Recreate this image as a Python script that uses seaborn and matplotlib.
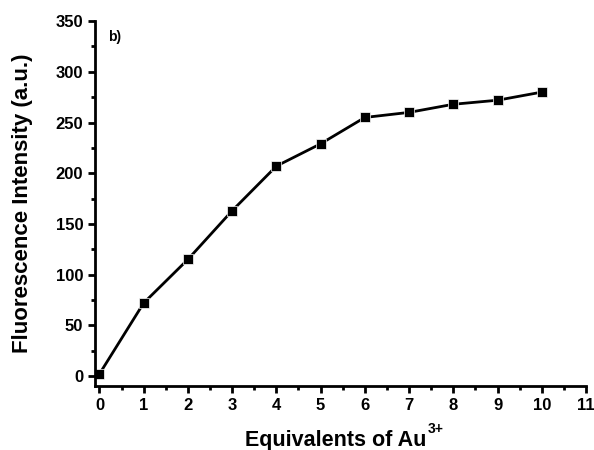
import matplotlib
matplotlib.use("Agg")
import matplotlib.pyplot as plt
import seaborn as sns
import pandas as pd
from matplotlib.ticker import MultipleLocator

equivalents = [0, 1, 2, 3, 4, 5, 6, 7, 8, 9, 10]
intensity = [2, 72, 115, 163, 207, 229, 255, 260, 268, 272, 280]

df = pd.DataFrame({"eq": equivalents, "I": intensity})

sns.set_style("ticks")
plt.rcParams['font.family'] = ['Liberation Sans', 'DejaVu Sans']
plt.rcParams['font.weight'] = 'bold'
plt.rcParams['text.color'] = 'black'
plt.rcParams['axes.labelcolor'] = 'black'
plt.rcParams['xtick.color'] = 'black'
plt.rcParams['ytick.color'] = 'black'
plt.rcParams['axes.edgecolor'] = 'black'

fig = plt.figure(figsize=(5.94, 4.5), dpi=100)
ax = fig.add_axes([0.16, 0.142, 0.8265, 0.811])
sns.lineplot(data=df, x="eq", y="I", ax=ax, color="black", linewidth=2,
             marker="s", markersize=7, markeredgecolor="white", markeredgewidth=0.5)

ax.set_xlim(-0.1, 11)
ax.set_ylim(-10, 350)
ax.xaxis.set_major_locator(MultipleLocator(1))
ax.xaxis.set_minor_locator(MultipleLocator(0.5))
ax.yaxis.set_major_locator(MultipleLocator(50))
ax.yaxis.set_minor_locator(MultipleLocator(25))
ax.spines['top'].set_visible(False)
ax.spines['right'].set_visible(False)
for s in ['left', 'bottom']:
    ax.spines[s].set_linewidth(2)
ax.tick_params(which='major', length=5, width=2, labelsize=12, direction='out', color='black', labelcolor='black')
ax.tick_params(which='minor', length=3, width=2, direction='out', color='black')
for lab in ax.get_xticklabels() + ax.get_yticklabels():
    lab.set_fontweight('bold')

ax.set_ylabel("Fluorescence Intensity (a.u.)", fontsize=16, fontweight='bold', labelpad=16)
ax.set_xlabel("")
# x-axis title with small superscript
base_px = 3.6
H = fig.get_figheight() * fig.dpi
W = fig.get_figwidth() * fig.dpi
xl = fig.text(0.565, base_px / H, "Equivalents of Au", fontsize=15.5, fontweight='bold',
              ha='center', va='baseline')
fig.canvas.draw()
bb = xl.get_window_extent(renderer=fig.canvas.get_renderer())
fig.text((bb.x1 + 1) / W, (base_px + 13) / H,
         "3+", fontsize=10, fontweight='bold', ha='left', va='baseline')

ax.text(0.2, 330, "b)", fontsize=10, fontweight='bold')

fig.savefig("out.png", dpi=100)
